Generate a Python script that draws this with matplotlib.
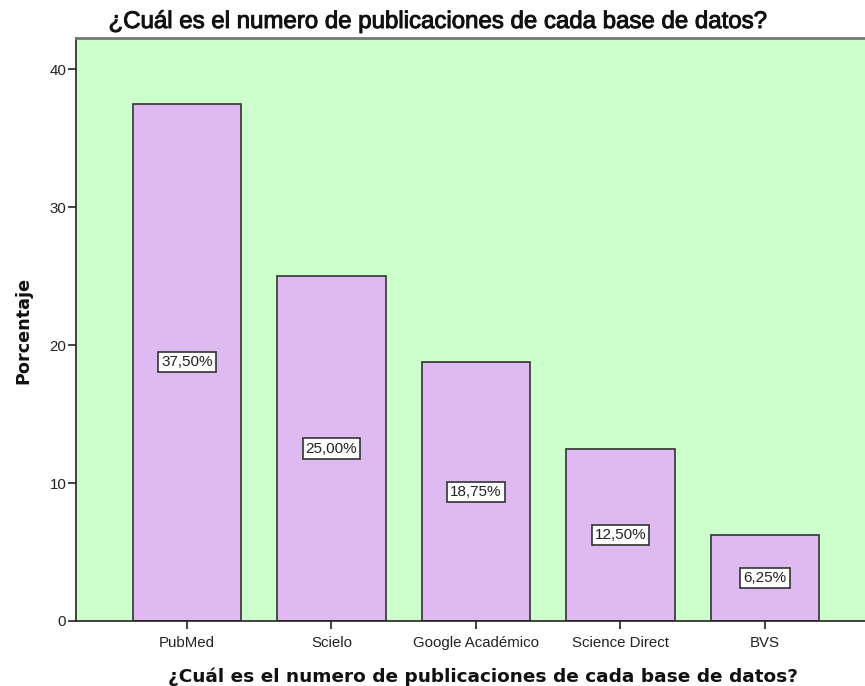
import matplotlib
matplotlib.use("Agg")
from matplotlib import pyplot as plt
from matplotlib import patheffects

# Data
categories = ['PubMed', 'Scielo', 'Google Académico', 'Science Direct', 'BVS']
percentages = [37.50, 25.00, 18.75, 12.50, 6.25]
bar_labels = ['37,50%', '25,00%', '18,75%', '12,50%', '6,25%']
y_ticks = [0, 10, 20, 30, 40]

title = '¿Cuál es el numero de publicaciones de cada base de datos?'

fig = plt.figure(figsize=(8.65, 6.86), dpi=100)
ax = fig.add_axes([76/865, 1 - 621/686, 1 - 76/865, (621 - 38)/686])
ax.set_facecolor('#CCFFCC')

x = list(range(len(categories)))
ax.bar(x, percentages, width=0.75, color='#DFBAF1', edgecolor='#333333', linewidth=1.2, zorder=2)

# value labels in the middle of each bar
for xi, val, lab in zip(x, percentages, bar_labels):
    ax.text(xi, val / 2, lab, ha='center', va='center', fontsize=11,
            family='Liberation Sans', color='#222222', zorder=3,
            bbox=dict(boxstyle='square,pad=0.2', facecolor='white',
                      edgecolor='#333333', linewidth=1.2))

ax.set_xlim(-0.768, 4.692)
ax.set_ylim(0, 42.25)
ax.set_xticks(x)
ax.set_xticklabels(categories, family='Liberation Sans', fontsize=10.8, color='#222222')
ax.set_yticks(y_ticks)
ax.set_yticklabels([str(t) for t in y_ticks], family='Liberation Sans', fontsize=10.8, color='#222222')
ax.tick_params(axis='both', length=6, width=1.2, color='#222222')
ax.tick_params(axis='x', pad=5)
ax.tick_params(axis='y', pad=1)

ax.spines['right'].set_visible(False)
ax.spines['top'].set_color('#777777')
ax.spines['top'].set_linewidth(2)
ax.spines['left'].set_color('#222222')
ax.spines['left'].set_linewidth(1.2)
ax.spines['bottom'].set_color('#222222')
ax.spines['bottom'].set_linewidth(1.2)

fig.text(437/865, 1 - 28/686, title, ha='center', va='baseline', fontsize=17.3,
         family='Liberation Sans', color='#111111',
         path_effects=[patheffects.withStroke(linewidth=0.7, foreground='#111111')])
fig.text(483/865, 1 - 682/686, title, ha='center', va='baseline', fontsize=13.3,
         family='DejaVu Sans', fontweight='bold', color='#111111')
fig.text(23/865, 1 - 330/686, 'Porcentaje', ha='center', va='center', rotation=90,
         fontsize=12.7, family='DejaVu Sans', fontweight='bold', color='#111111')

fig.savefig('out.png', dpi=100)
